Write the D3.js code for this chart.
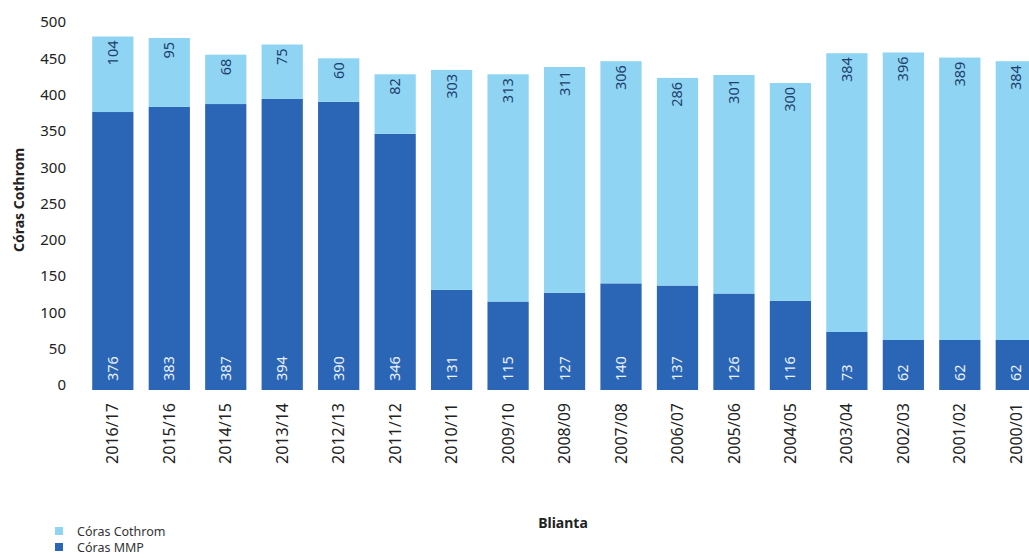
<!DOCTYPE html>
<html>
<head>
<meta charset="utf-8">
<script src="https://cdn.jsdelivr.net/npm/d3@7"></script>
<style>
  html, body { margin: 0; padding: 0; background: #fff; }
  svg { display: block; font-family: "Noto Sans", "Open Sans", sans-serif; }
</style>
</head>
<body>
<svg id="chart" width="1029" height="558"></svg>
<script>
// School years, newest first
const years = ["2016/17","2015/16","2014/15","2013/14","2012/13","2011/12","2010/11","2009/10",
               "2008/09","2007/08","2006/07","2005/06","2004/05","2003/04","2002/03","2001/02","2000/01"];
// Córas MMP (lower segment)
const mmp = [376,383,387,394,390,346,131,115,127,140,137,126,116,73,62,62,62];
// Córas Cothrom (upper segment)
const cothrom = [104,95,68,75,60,82,303,313,311,306,286,301,300,384,396,389,384];
const yTicks = [0,50,100,150,200,250,300,350,400,450,500];
const seriesNames = ["Córas Cothrom","Córas MMP"];

const colDark = "#2b65b5";
const colLight = "#8fd4f2";

const svg = d3.select("#chart");
const left = 92;

const x = d3.scaleBand()
  .domain(years)
  .range([left - 6, left - 6 + 56.3 * years.length])
  .paddingInner(0.27)
  .paddingOuter(0.11);

const y = d3.scaleLinear().domain([0, 500]).range([385, 22]);

const rows = years.map((yr, i) => ({year: yr, mmp: mmp[i], cothrom: cothrom[i]}));
const stack = d3.stack().keys(["mmp", "cothrom"])(rows);
const fills = {mmp: colDark, cothrom: colLight};

const g = svg.append("g");

// stacked bars
g.selectAll("g.layer")
  .data(stack)
  .join("g")
  .attr("class", "layer")
  .attr("fill", d => fills[d.key])
  .selectAll("rect")
  .data(d => d)
  .join("rect")
  .attr("x", d => x(d.data.year))
  .attr("width", x.bandwidth())
  .attr("y", d => y(d[1]))
  .attr("height", d => y(d[0]) - y(d[1]) + (d[0] === 0 ? 5 : 0));

// value labels: MMP near base, Cothrom near top of its segment
g.selectAll("text.lblMmp")
  .data(rows)
  .join("text")
  .attr("class", "lblMmp")
  .attr("transform", d => `translate(${x(d.year) + x.bandwidth() / 2 + 5},${y(0) - 4}) rotate(-90)`)
  .attr("fill", "#eaf2fb")
  .attr("font-size", 14.5)
  .text(d => d.mmp);

g.selectAll("text.lblCot")
  .data(rows)
  .join("text")
  .attr("class", "lblCot")
  .attr("transform", d => `translate(${x(d.year) + x.bandwidth() / 2 + 5},${y(d.mmp + d.cothrom) + 4}) rotate(-90)`)
  .attr("text-anchor", "end")
  .attr("fill", "#1e3f6e")
  .attr("font-size", 14.5)
  .text(d => d.cothrom);

// y axis (labels only)
const yAxis = d3.axisLeft(y).tickValues(yTicks).tickSize(0).tickPadding(0);
const ya = svg.append("g").attr("transform", "translate(66,0)").call(yAxis);
ya.select(".domain").remove();
ya.selectAll("text").attr("font-size", 15).attr("fill", "#222").attr("font-family", "Noto Sans, sans-serif");

// x axis (rotated year labels)
const xAxis = d3.axisBottom(x).tickSize(0).tickPadding(0);
const xa = svg.append("g").attr("transform", "translate(0,403)").call(xAxis);
xa.select(".domain").remove();
xa.selectAll("text")
  .attr("font-size", 16)
  .attr("fill", "#222")
  .attr("font-family", "Noto Sans, sans-serif")
  .attr("text-anchor", "end")
  .attr("x", 0)
  .attr("y", 0)
  .attr("dy", "0.35em")
  .attr("transform", "rotate(-90)");

// axis titles
svg.append("text")
  .attr("transform", "translate(24,200) rotate(-90)")
  .attr("text-anchor", "middle")
  .attr("font-size", 14)
  .attr("font-weight", "bold")
  .attr("fill", "#222")
  .text("Córas Cothrom");

svg.append("text")
  .attr("x", 563).attr("y", 528)
  .attr("text-anchor", "middle")
  .attr("font-size", 14)
  .attr("font-weight", "bold")
  .attr("fill", "#222")
  .text("Blianta");

// legend
const legend = svg.append("g").attr("transform", "translate(55,527)");
const legCols = [colLight, colDark];
seriesNames.forEach((name, i) => {
  const row = legend.append("g").attr("transform", `translate(0,${i * 16})`);
  row.append("rect").attr("width", 8).attr("height", 8).attr("fill", legCols[i]);
  row.append("text").attr("x", 22).attr("y", 8.5).attr("font-size", 12.5).attr("fill", "#333").text(name);
});
</script>
</body>
</html>
